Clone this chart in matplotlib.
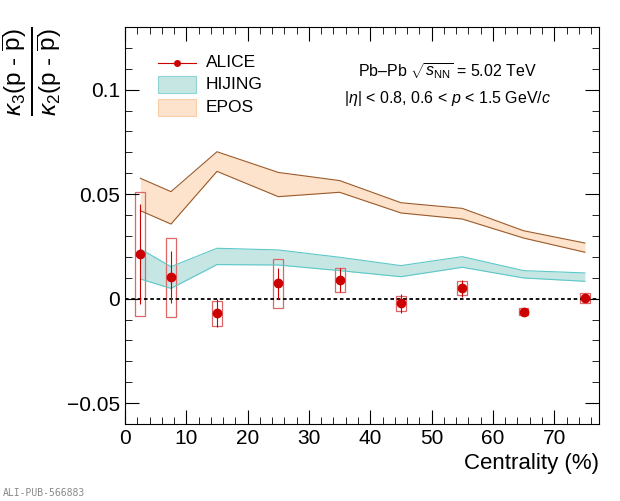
import matplotlib
matplotlib.use("Agg")
import matplotlib.pyplot as plt
from matplotlib.patches import Rectangle
from matplotlib.ticker import MultipleLocator

plt.rcParams['font.family'] = ['Liberation Sans', 'DejaVu Sans']
plt.rcParams['mathtext.fontset'] = 'custom'
plt.rcParams['mathtext.rm'] = 'Liberation Sans'
plt.rcParams['mathtext.it'] = 'Liberation Sans:italic'

# data
cent = [2.5, 7.5, 15, 25, 35, 45, 55, 65, 75]
alice = [0.0214, 0.0102, -0.0070, 0.0073, 0.0089, -0.0022, 0.0049, -0.0062, 0.0005]
stat_err = [0.0240, 0.0124, 0.0066, 0.0073, 0.0056, 0.0046, 0.0040, 0.0012, 0.0015]
syst_lo = [-0.0081, -0.0089, -0.0132, -0.0043, 0.0033, -0.0059, 0.0019, -0.0078, -0.0020]
syst_hi = [0.0509, 0.0290, -0.0011, 0.0191, 0.0145, 0.0013, 0.0083, -0.0046, 0.0029]
hijing_lo = [0.0094, 0.0049, 0.0163, 0.0161, 0.0134, 0.0105, 0.0150, 0.0099, 0.0083]
hijing_hi = [0.0238, 0.0153, 0.0241, 0.0233, 0.0198, 0.0158, 0.0201, 0.0134, 0.0123]
epos_lo = [0.0421, 0.0357, 0.0609, 0.0488, 0.0509, 0.0410, 0.0381, 0.0290, 0.0222]
epos_hi = [0.0576, 0.0512, 0.0703, 0.0604, 0.0565, 0.0459, 0.0432, 0.0325, 0.0266]

fig = plt.figure(figsize=(6.2, 5.01), dpi=100)
ax = fig.add_axes([125/620, 77/501, 474/620, 397/501])

red = '#cc0000'
ax.fill_between(cent, epos_lo, epos_hi, color='#fde3cc', lw=0)
ax.plot(cent, epos_lo, color='#9c5a2a', lw=0.8)
ax.plot(cent, epos_hi, color='#9c5a2a', lw=0.8)
ax.fill_between(cent, hijing_lo, hijing_hi, color='#c6e6e4', lw=0)
ax.plot(cent, hijing_lo, color='#5cc8c8', lw=0.8)
ax.plot(cent, hijing_hi, color='#5cc8c8', lw=0.8)

ax.axhline(0, color='black', ls=(0, (2, 1.5)), lw=1.3)

for x, lo, hi in zip(cent, syst_lo, syst_hi):
    ax.add_patch(Rectangle((x - 0.8, lo), 1.6, hi - lo, fill=False, ec='#dd6666', lw=0.9))
ax.errorbar(cent, alice, yerr=stat_err, fmt='o', color=red, ms=6, elinewidth=0.8, capsize=0)

# legend
lx = 0.07
ax.plot([lx, lx + 0.08], [0.91, 0.91], color=red, lw=0.8, transform=ax.transAxes)
ax.plot([lx + 0.04], [0.91], 'o', color=red, ms=4, transform=ax.transAxes)
ax.add_patch(Rectangle((lx, 0.834), 0.08, 0.042, transform=ax.transAxes, fc='#c6e6e4', ec='#8fd3d3', lw=0.8))
ax.add_patch(Rectangle((lx, 0.776), 0.08, 0.042, transform=ax.transAxes, fc='#fde3cc', ec='#f8cfa8', lw=0.8))
for t, yy in [('ALICE', 0.91), ('HIJING', 0.855), ('EPOS', 0.797)]:
    ax.text(lx + 0.1, yy, t, transform=ax.transAxes, fontsize=12.5, va='center')

ax.text(0.68, 0.89, r'Pb–Pb $\sqrt{s_{\mathrm{NN}}}$ = 5.02 TeV', transform=ax.transAxes,
        fontsize=11.5, ha='center', va='center')
ax.text(0.68, 0.82, r'|$\eta$| < 0.8, 0.6 < $p$ < 1.5 GeV/$c$', transform=ax.transAxes,
        fontsize=11.5, ha='center', va='center')

ax.set_xlim(0, 77.3)
ax.set_ylim(-0.06, 0.13)
ax.xaxis.set_major_locator(MultipleLocator(10))
ax.xaxis.set_minor_locator(MultipleLocator(2))
ax.yaxis.set_major_locator(MultipleLocator(0.05))
ax.yaxis.set_minor_locator(MultipleLocator(0.01))
ax.set_yticks([-0.05, 0, 0.05, 0.1])
ax.set_yticklabels(['−0.05', '0', '0.05', '0.1'])
ax.tick_params(which='both', direction='in', top=True, right=True, labelsize=15)
ax.tick_params(which='major', length=10)
ax.tick_params(which='minor', length=5)
ax.set_xlabel('Centrality (%)', fontsize=16, loc='right')
ax.set_ylabel(r'$\frac{\kappa_3(\mathrm{p}\ \text{-}\ \overline{\mathrm{p}})}{\kappa_2(\mathrm{p}\ \text{-}\ \overline{\mathrm{p}})}$',
              fontsize=25, loc='top', labelpad=2)

fig.text(0.005, 0.01, 'ALI-PUB-566883', fontsize=7, color='#888888', family='DejaVu Sans Mono')
fig.savefig('out.png', dpi=100)
